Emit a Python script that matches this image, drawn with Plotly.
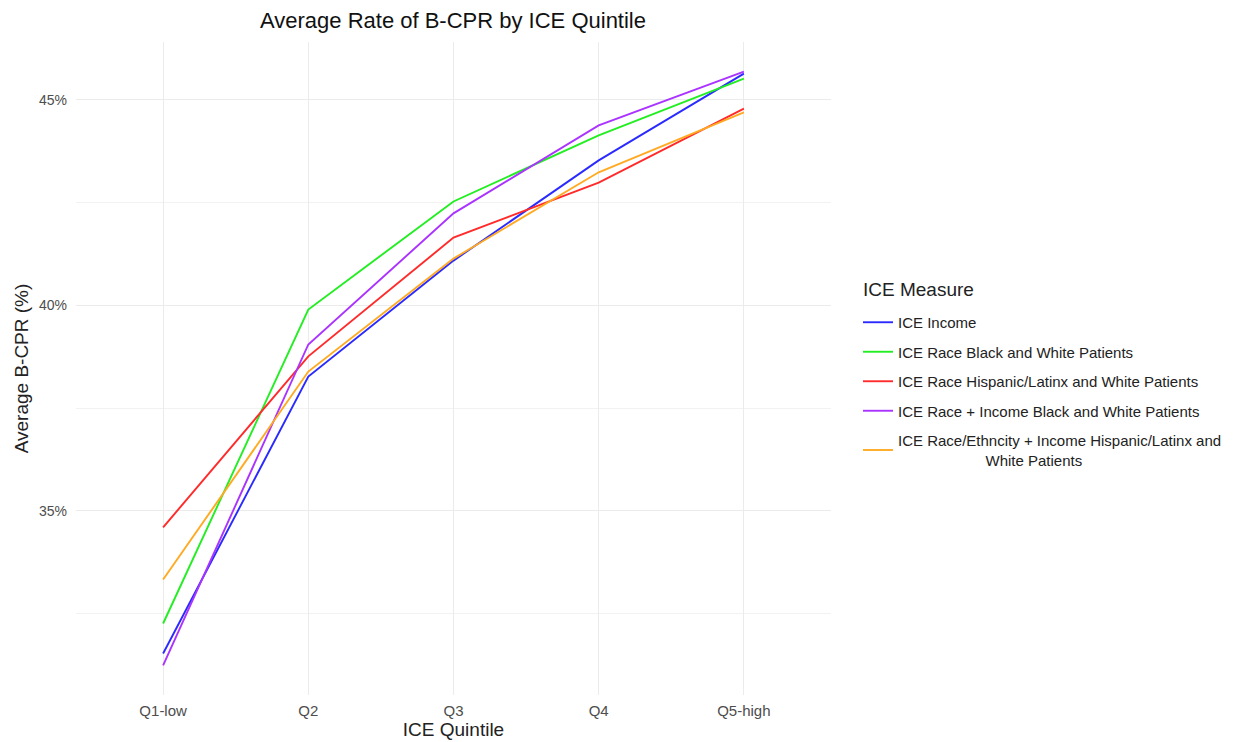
import plotly.graph_objects as go

quintiles = ["Q1-low", "Q2", "Q3", "Q4", "Q5-high"]
series_names = [
    "ICE Income",
    "ICE Race Black and White Patients",
    "ICE Race Hispanic/Latinx and White Patients",
    "ICE Race + Income Black and White Patients",
    "ICE Race/Ethncity + Income Hispanic/Latinx and<br>                     White Patients",
]
ice_income = [31.53, 38.27, 41.09, 43.53, 45.64]
ice_race_bw = [32.26, 39.90, 42.53, 44.14, 45.52]
ice_race_hw = [34.60, 38.76, 41.65, 42.99, 44.79]
ice_race_inc_bw = [31.24, 39.05, 42.24, 44.38, 45.69]
ice_race_inc_hw = [33.33, 38.39, 41.14, 43.24, 44.70]
colors = ["#2a2aff", "#22ee22", "#ff2a2a", "#aa33ff", "#ffaa22"]

values = [ice_income, ice_race_bw, ice_race_hw, ice_race_inc_bw, ice_race_inc_hw]

# page is offset by 8px body margin; figure coords = page coords - 8
W, H = 1233, 734
PL, PR, PT, PB = 68, 823, 34, 687  # plot area in figure px


def px_x(x):
    return (x - PL) / (PR - PL)


def px_y(y):
    return (PB - y) / (PB - PT)


fig = go.Figure()
for name, vals, c in zip(series_names, values, colors):
    fig.add_trace(go.Scatter(x=list(range(1, 6)), y=vals, mode="lines", name=name,
                             legendgroup=name,
                             line=dict(color=c, width=1.9)))

FONT = "Liberation Sans, Arial, sans-serif"
fig.update_layout(
    width=W, height=H,
    paper_bgcolor="white", plot_bgcolor="white",
    font=dict(family=FONT, color="#222222"),
    margin=dict(l=PL, r=W - PR, t=PT, b=H - PB),
    title=dict(text="Average Rate of B-CPR by ICE Quintile", x=445 / W, xanchor="center",
               y=1 - 12 / H, yanchor="middle", font=dict(size=22, color="#111111")),
    legend=dict(x=px_x(850), xanchor="left", y=px_y(298), yanchor="top",
                font=dict(size=15, color="#222222"), tracegroupgap=7,
                itemwidth=30),
    annotations=[dict(text="ICE Measure", xref="paper", yref="paper",
                      x=px_x(853), xanchor="left", y=px_y(281), yanchor="middle",
                      showarrow=False, font=dict(size=19, color="#222222"))],
)
fig.update_xaxes(
    range=[0.4, 5.6], tickvals=list(range(1, 6)), ticktext=quintiles,
    showgrid=True, gridcolor="#ebebeb", gridwidth=1.2, zeroline=False, showline=False,
    tickfont=dict(size=15, color="#4d4d4d"), ticks="", automargin=False,
    ticklabelstandoff=5,
    title=dict(text="ICE Quintile", font=dict(size=19, color="#222222"), standoff=2),
)
fig.update_yaxes(
    range=[30.52, 46.41], tickvals=[35, 40, 45], ticktext=["35%", "40%", "45%"],
    showgrid=True, gridcolor="#ebebeb", gridwidth=1.2, zeroline=False, showline=False,
    tickfont=dict(size=14, color="#4d4d4d"), ticks="", automargin=False,
    ticklabelstandoff=8,
    minor=dict(tickvals=[32.5, 37.5, 42.5], showgrid=True, gridcolor="#f2f2f2", gridwidth=1),
    title=dict(text="Average B-CPR (%)", font=dict(size=19, color="#222222"), standoff=5),
)

fig.write_html("out.html")
